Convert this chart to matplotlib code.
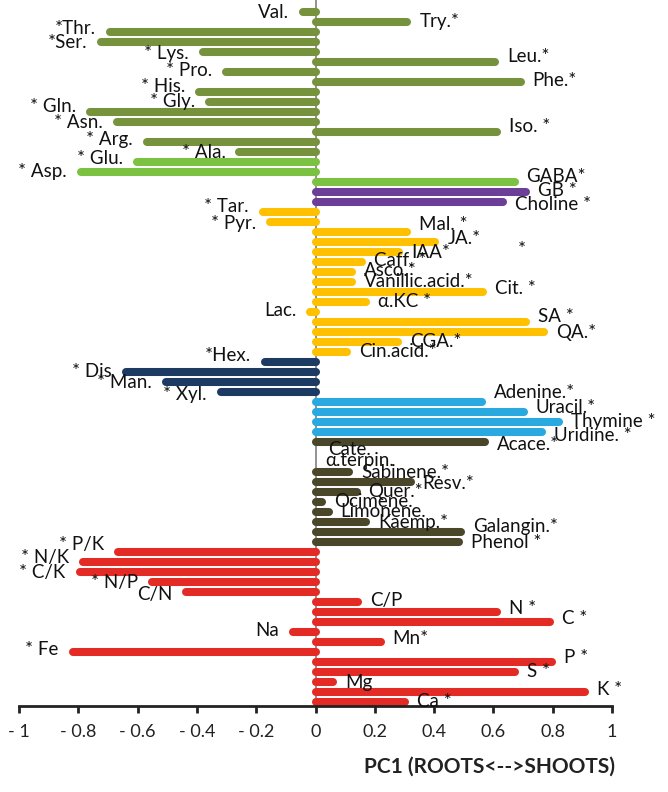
import numpy as np
import matplotlib.pyplot as plt

# PC1 loadings, top to bottom
labels = ["Val.", "Try.*", "*Thr.", "*Ser.", "* Lys.", "Leu.*", "* Pro.", "Phe.*",
          "* His.", "* Gly.", "* Gln.", "* Asn.", "Iso. *", "* Arg.", "* Ala.",
          "* Glu.", "* Asp.", "GABA*", "GB *", "Choline *",
          "* Tar.", "* Pyr.", "Mal. *", "JA.*", "IAA*", "Caff. *", "Asco.*",
          "Vanillic.acid.*", "Cit. *", "\u03b1.KC *", "Lac.", "SA *", "QA.*",
          "CGA.*", "Cin.acid.*",
          "*Hex.", "* Dis", "* Man.", "* Xyl.",
          "Adenine.*", "Uracil.*", "Thymine *", "Uridine. *",
          "Acace.*", "Cate.", "\u03b1.terpin.", "Sabinene.*", "Resv.*", "Quer.*",
          "Ocimene.", "Limonene.", "Kaemp.*", "Galangin.*", "Phenol *",
          "* P/K", "* N/K", "* C/K", "* N/P", "C/N", "C/P", "N *", "C *", "Na",
          "Mn*", "* Fe", "P *", "S *", "Mg", "K *", "Ca *"]

values = [-0.057, 0.323, -0.708, -0.736, -0.394, 0.62, -0.315, 0.705,
          -0.405, -0.371, -0.773, -0.684, 0.626, -0.582, -0.27,
          -0.614, -0.804, 0.685, 0.724, 0.645,
          -0.191, -0.166, 0.323, 0.418, 0.295, 0.169, 0.135,
          0.137, 0.578, 0.184, -0.031, 0.725, 0.784,
          0.292, 0.12,
          -0.183, -0.653, -0.518, -0.333,
          0.576, 0.716, 0.836, 0.778,
          0.585, 0.016, 0.005, 0.128, 0.334, 0.152,
          0.036, 0.058, 0.184, 0.503, 0.497,
          -0.68, -0.796, -0.809, -0.566, -0.45, 0.157, 0.626, 0.804, -0.088,
          0.233, -0.832, 0.81, 0.688, 0.073, 0.924, 0.317]

groups = (["amino"] * 15 + ["amino2"] * 3 + ["quat"] * 2 + ["acid"] * 15
          + ["sugar"] * 4 + ["nucleo"] * 4 + ["phenol"] * 11 + ["ion"] * 16)

group_colors = {"amino": "#77923c", "amino2": "#7cc242", "quat": "#6b3e98",
                "acid": "#ffc000", "sugar": "#1d3a62", "nucleo": "#2aa8e0",
                "phenol": "#4a4629", "ion": "#e42a24"}

# vertical nudge of each label (pixels, + = down), as placed in the original
label_dy = [0, 0, -4, 0, 1, -5, -1, -2, -5, -1, -5, 1, -5, -2, 1,
            -4, 0, -5, -1, 3, -5, 1, -8, -4, 0, -1, -2, 0, -3, 0,
            -1, -5, 1, 0, 0, -6, 0, 1, 3, -9, -4, 0, 4, 3, -2,
            -1, 1, 2, 0, 0, 0, 1, -5, 1, -7, -4, 1, 1, 3, -1,
            -3, -3, -1, -3, -2, -4, 0, 1, -2, 0]

xticks = [-1, -0.8, -0.6, -0.4, -0.2, 0, 0.2, 0.4, 0.6, 0.8, 1]
xtick_labels = ["- 1", "- 0.8", "- 0.6", "- 0.4", "- 0.2", "0", "0.2", "0.4", "0.6", "0.8", "1"]

plt.rcParams['font.family'] = ['Lato', 'DejaVu Sans']

fig = plt.figure(figsize=(6.68, 7.92), dpi=100)
ax = fig.add_axes([19 / 668, 86 / 792, 593 / 668, 706 / 792])

n = len(values)
y = np.arange(n)
vals = np.array(values)
cap = 4 / 296.5
ends = np.sign(vals) * np.maximum(np.abs(vals) - cap, 0.001)
cols = [group_colors[g] for g in groups]
cols[45] = "black"

lc = ax.hlines(y, 0, ends, colors=cols, linewidth=5.8)
lc.set_capstyle('round')

ax.axvline(0, color='#8a8a8a', lw=1.3, zorder=0)

px = 0.72  # points per pixel at dpi 100
for i in range(n):
    v = values[i]
    dy = -label_dy[i] * px
    if v >= 0:
        ax.annotate(labels[i], (v, i), xytext=(8 * px, dy), textcoords='offset points',
                    ha='left', va='center', fontsize=13.5, color='#111111')
    else:
        ax.annotate(labels[i], (v, i), xytext=(-10 * px, dy), textcoords='offset points',
                    ha='right', va='center', fontsize=13.5, color='#111111')
# stray asterisk in the IAA row
ax.annotate("*", (0.695, 24), xytext=(0, 2), textcoords='offset points',
            ha='center', va='center', fontsize=13.5, color='#111111')

ax.set_xlim(-1, 1)
ax.set_ylim(n - 0.6, -1.2)
ax.set_yticks([])
ax.set_xticks(xticks)
ax.set_xticklabels(xtick_labels, fontsize=13, color='#222222')
ax.tick_params(axis='x', direction='out', length=5, width=2, pad=8, color='#222222')
for s in ['left', 'top', 'right']:
    ax.spines[s].set_visible(False)
ax.spines['bottom'].set_linewidth(2)
ax.spines['bottom'].set_color('#222222')

fig.text(490 / 668, 1 - 767 / 792, "PC1 (ROOTS<-->SHOOTS)", ha='center', va='center',
         fontsize=15, fontweight='bold', color='#222222')

fig.savefig('out.png', dpi=100)
